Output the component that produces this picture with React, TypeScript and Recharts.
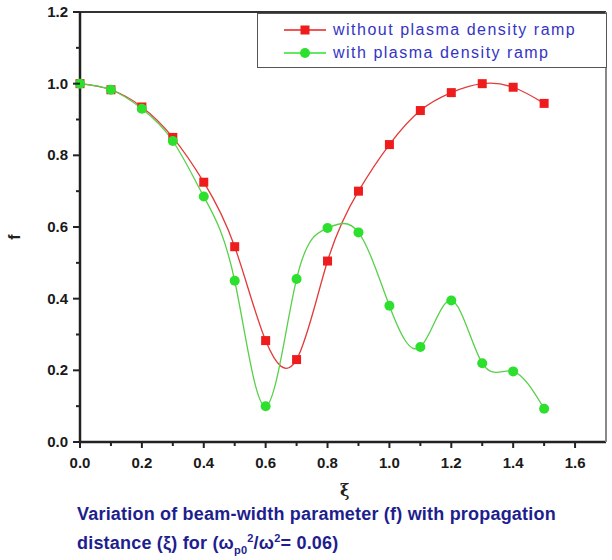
import { Line, LineChart, XAxis, YAxis } from "recharts";

const xi = [0, 0.1, 0.2, 0.3, 0.4, 0.5, 0.6, 0.7, 0.8, 0.9, 1.0, 1.1, 1.2, 1.3, 1.4, 1.5];
const withoutRamp = [1.0, 0.983, 0.935, 0.85, 0.725, 0.545, 0.283, 0.23, 0.505, 0.7, 0.83, 0.925, 0.975, 1.0, 0.99, 0.945];
const withRamp = [1.0, 0.983, 0.93, 0.84, 0.685, 0.45, 0.1, 0.455, 0.597, 0.585, 0.38, 0.265, 0.395, 0.22, 0.197, 0.093];
const xTicks = [0, 0.1, 0.2, 0.3, 0.4, 0.5, 0.6, 0.7, 0.8, 0.9, 1.0, 1.1, 1.2, 1.3, 1.4, 1.5, 1.6];
const yTicks = [0, 0.1, 0.2, 0.3, 0.4, 0.5, 0.6, 0.7, 0.8, 0.9, 1.0, 1.1, 1.2];
const seriesNames = ["without plasma density ramp", "with plasma density ramp"];

const data = xi.map((x, i) => ({ x, without: withoutRamp[i], with: withRamp[i] }));

const RED = "#ee1c1c";
const GREEN = "#2ee02e";
const tickFont = { fontFamily: "'Liberation Sans', Arial, sans-serif", fontWeight: 700, fontSize: 15, fill: "#1a1a1a" };

const isMajor = (v: number) => Math.round(v * 10) % 2 === 0;

function XTick({ x, y, payload }: any) {
  const v = payload.value;
  const major = isMajor(v);
  return (
    <g>
      <line x1={x} x2={x} y1={y} y2={y + (major ? 6 : 4)} stroke="#222" strokeWidth={2} />
      {major && (
        <text x={x} y={y + 26} textAnchor="middle" {...tickFont}>
          {v.toFixed(1)}
        </text>
      )}
    </g>
  );
}

function YTick({ x, y, payload }: any) {
  const v = payload.value;
  const major = isMajor(v);
  return (
    <g>
      <line x1={x} x2={x - (major ? 7 : 4)} y1={y} y2={y} stroke="#222" strokeWidth={2} />
      {major && (
        <text x={x - 12} y={y + 5} textAnchor="end" {...tickFont}>
          {v.toFixed(1)}
        </text>
      )}
    </g>
  );
}

const squareDot = (p: any) => (
  <rect key={`s${p.index}`} x={p.cx - 4.5} y={p.cy - 4.5} width={9} height={9} fill={RED} />
);
const circleDot = (p: any) => <circle key={`c${p.index}`} cx={p.cx} cy={p.cy} r={5} fill={GREEN} />;

function LegendBox() {
  const rows = [
    { name: seriesNames[0], color: RED, square: true },
    { name: seriesNames[1], color: GREEN, square: false },
  ];
  return (
    <div
      style={{
        position: "absolute",
        left: 257,
        top: 13,
        width: 350,
        height: 55,
        boxSizing: "border-box",
        border: "1.5px solid #555",
        background: "#fff",
        paddingTop: 4,
      }}
    >
      {rows.map((r) => (
        <div key={r.name} style={{ display: "flex", alignItems: "center", height: 23 }}>
          <svg width={75} height={14} style={{ flex: "none" }}>
            <line x1={26} x2={68} y1={7} y2={7} stroke={r.color} strokeWidth={1.3} />
            {r.square ? (
              <rect x={42.5} y={2.5} width={9} height={9} fill={r.color} />
            ) : (
              <circle cx={47} cy={7} r={5} fill={r.color} />
            )}
          </svg>
          <span
            style={{
              fontFamily: "'Liberation Sans', Arial, sans-serif",
              fontSize: 16,
              letterSpacing: 1.5,
              color: "#3434c4",
              whiteSpace: "nowrap",
            }}
          >
            {r.name}
          </span>
        </div>
      ))}
    </div>
  );
}

export default function App() {
  const caption = {
    fontFamily: "'Liberation Sans', Arial, sans-serif",
    fontWeight: 700,
    fontSize: 18,
    letterSpacing: 0.2,
    color: "#1e1e8e",
    whiteSpace: "nowrap" as const,
  };
  return (
    <div style={{ position: "absolute", left: 0, top: 0, width: 612, height: 560, background: "#fff" }}>
      <LineChart width={612} height={560} data={data} margin={{ top: 11, right: 5, left: 20, bottom: 88 }}>
        <XAxis
          dataKey="x"
          type="number"
          domain={[0, 1.7]}
          ticks={xTicks}
          interval={0}
          height={30}
          tickSize={0}
          tickMargin={0}
          tickLine={false}
          tick={<XTick />}
          axisLine={{ stroke: "#222", strokeWidth: 2.5 }}
        />
        <XAxis
          xAxisId="top"
          dataKey="x"
          orientation="top"
          type="number"
          domain={[0, 1.7]}
          height={1}
          tick={false}
          tickLine={false}
          axisLine={{ stroke: "#333", strokeWidth: 2 }}
        />
        <YAxis
          type="number"
          domain={[0, 1.2]}
          ticks={yTicks}
          interval={0}
          width={60}
          tickSize={0}
          tickMargin={0}
          tickLine={false}
          tick={<YTick />}
          axisLine={{ stroke: "#222", strokeWidth: 2.5 }}
        />
        <YAxis
          yAxisId="right"
          orientation="right"
          type="number"
          domain={[0, 1.2]}
          width={1}
          tick={false}
          tickLine={false}
          axisLine={{ stroke: "#888", strokeWidth: 2 }}
        />
        <Line
          dataKey="without"
          name={seriesNames[0]}
          type="natural"
          stroke="#e23a3a"
          strokeWidth={1.3}
          dot={squareDot}
          isAnimationActive={false}
        />
        <Line
          dataKey="with"
          name={seriesNames[1]}
          type="natural"
          stroke="#58d04a"
          strokeWidth={1.3}
          dot={circleDot}
          isAnimationActive={false}
        />
      </LineChart>
      <LegendBox />
      <div
        style={{
          position: "absolute",
          left: 12,
          top: 228,
          fontFamily: "'Liberation Sans', Arial, sans-serif",
          fontWeight: 700,
          fontSize: 16,
          color: "#222",
          transform: "rotate(-90deg)",
        }}
      >
        f
      </div>
      <div
        style={{
          position: "absolute",
          left: 340,
          top: 481,
          fontFamily: "'DejaVu Serif', serif",
          fontWeight: 700,
          fontSize: 16,
          color: "#222",
        }}
      >
        ξ
      </div>
      <div style={{ ...caption, position: "absolute", left: 77, top: 504 }}>
        Variation of beam-width parameter (f) with propagation
      </div>
      <div style={{ ...caption, position: "absolute", left: 77, top: 532 }}>
        distance (ξ) for (ω
        <sub style={{ fontSize: 11 }}>p0</sub>
        <sup style={{ fontSize: 11 }}>2</sup>/ω<sup style={{ fontSize: 11 }}>2</sup>= 0.06)
      </div>
    </div>
  );
}
